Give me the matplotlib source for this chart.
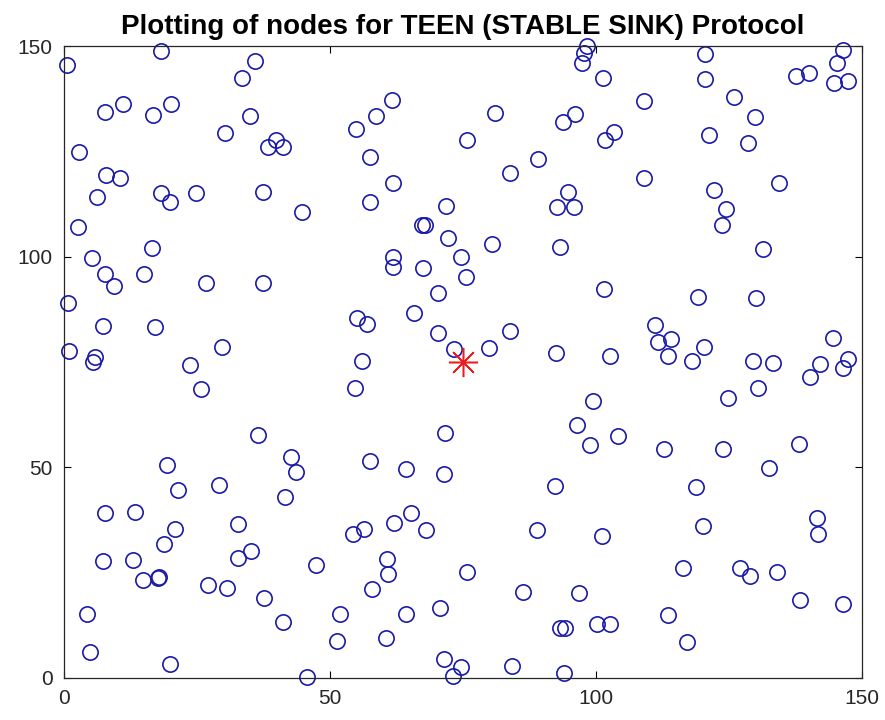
import matplotlib
matplotlib.use("Agg")
import matplotlib.pyplot as plt

# node positions (x, y) in the 150 x 150 field
node_x = [
    0.6, 18.3, 36.0, 33.6, 7.8, 11.1, 16.9, 20.2, 35.1, 30.3, 2.9, 40.0, 38.4, 41.2,
    8.0, 10.7, 6.2, 18.3, 20.0, 24.8, 37.4, 44.9,
    98.4, 97.8, 97.5, 101.3, 61.7, 58.8, 54.9, 81.1, 93.8, 96.1, 75.9, 57.5, 89.2,
    83.9, 62.0, 57.6, 71.9, 94.7, 92.8, 96.0,
    120.5, 120.5, 146.5, 145.4, 137.7, 140.1, 144.8, 147.4, 109.1, 125.9, 130.0,
    103.4, 101.7, 121.2, 128.7, 109.0, 122.3, 134.5, 124.5,
    2.7, 16.6, 5.3, 7.7, 9.4, 15.1, 26.8, 37.4, 0.9, 7.5, 17.1, 1.0, 6.0, 5.6, 29.7, 23.8,
    67.3, 67.9, 72.3, 80.6, 93.3, 62.0, 62.0, 67.6, 74.6, 75.6, 70.3, 65.9, 55.1, 57.1,
    70.4, 83.9, 73.4, 80.0, 92.5, 56.0, 101.6,
    123.8, 131.4, 119.3, 130.2, 111.1, 111.7, 114.1, 113.5, 102.7, 120.4, 118.0, 129.6,
    133.3, 144.6, 147.4, 146.5, 142.2, 140.2,
    25.8, 36.6, 42.7, 43.6, 41.6, 19.4, 21.6, 29.3, 7.8, 13.4, 20.9, 32.8,
    54.8, 71.7, 57.6, 64.3, 71.4, 99.4, 96.5, 98.9, 92.3, 65.3, 62.1, 56.5, 54.4, 68.2,
    89.0, 101.1,
    124.9, 130.5, 104.2, 112.9, 123.9, 138.2, 132.5, 118.8, 120.2, 141.5, 141.8,
    18.8, 7.5, 13.1, 14.9, 17.7, 17.9, 27.2, 30.8, 32.8, 35.2, 37.7, 41.3, 47.4, 4.4,
    5.0, 20.0, 45.8,
    60.7, 61.0, 57.9, 75.9, 52.0, 64.3, 70.7, 51.3, 60.6, 86.3, 96.8, 71.4, 74.7, 73.1,
    84.3, 93.3, 94.3, 94.1, 100.2, 102.7,
    116.4, 127.1, 129.0, 134.0, 138.4, 146.4, 113.6, 117.2,
]
node_y = [
    145.6, 148.9, 146.4, 142.5, 134.4, 136.3, 133.6, 136.3, 133.4, 129.4, 124.9, 127.8,
    126.0, 126.0, 119.3, 118.6, 114.1, 115.2, 112.9, 115.2, 115.4, 110.6,
    150.0, 148.3, 145.9, 142.5, 137.3, 133.4, 130.4, 134.2, 131.9, 133.9, 127.6, 123.7,
    123.2, 119.9, 117.4, 112.9, 112.1, 115.4, 111.7, 111.7,
    148.1, 142.2, 149.0, 145.9, 143.0, 143.5, 141.3, 141.7, 136.9, 138.0, 133.1, 129.7,
    127.8, 128.9, 126.9, 118.6, 115.8, 117.4, 111.4,
    107.1, 102.1, 99.6, 95.8, 93.0, 95.8, 93.8, 93.8, 88.9, 83.6, 83.2, 77.6, 76.2, 75.0,
    78.4, 74.2,
    107.5, 107.5, 104.5, 102.9, 102.3, 100.0, 97.6, 97.2, 100.0, 95.2, 91.3, 86.7, 85.3,
    83.9, 81.8, 82.4, 78.0, 78.2, 77.2, 75.2, 92.4,
    107.5, 101.8, 90.4, 90.2, 83.7, 79.6, 80.3, 76.4, 76.4, 78.6, 75.2, 75.2, 74.6, 80.6,
    75.6, 73.6, 74.4, 71.4,
    68.5, 57.6, 52.4, 48.9, 42.9, 50.6, 44.5, 45.7, 39.1, 39.4, 35.4, 36.5,
    68.8, 58.2, 51.4, 49.5, 48.3, 65.7, 60.0, 55.2, 45.5, 39.2, 36.8, 35.4, 34.2, 35.0,
    35.0, 33.5,
    66.3, 68.8, 57.4, 54.4, 54.4, 55.4, 49.8, 45.2, 36.1, 38.0, 34.0,
    31.7, 27.7, 27.9, 23.2, 23.7, 23.9, 22.0, 21.2, 28.5, 30.1, 19.0, 13.3, 26.7, 15.2,
    6.0, 3.2, 0.2,
    28.1, 24.7, 21.0, 25.1, 15.0, 15.1, 16.4, 8.7, 9.3, 20.4, 20.1, 4.4, 2.6, 0.4, 2.7,
    11.7, 11.8, 1.1, 12.6, 12.6,
    26.1, 25.9, 24.2, 25.1, 18.4, 17.5, 14.8, 8.4,
]
sink_x = [75]
sink_y = [75]

plt.rcParams['font.family'] = ['Liberation Sans', 'DejaVu Sans']

fig = plt.figure(figsize=(8.85, 7.2), dpi=100)
ax = fig.add_axes([0.0718, 0.059, 0.902, 0.877])

ax.plot(node_x, node_y, linestyle='none', marker='o', markersize=11,
        markerfacecolor='none', markeredgecolor='#1a1aa8', markeredgewidth=1.2,
        clip_on=False)
# sink: 8-spoke asterisk
ax.plot(sink_x, sink_y, linestyle='none', marker=(8, 2, 0), markersize=21,
        markeredgecolor='#ee1c1c', markeredgewidth=1.1, clip_on=False)

ax.set_xlim(0, 150)
ax.set_ylim(0, 150)
ax.set_xticks([0, 50, 100, 150])
ax.set_yticks([0, 50, 100, 150])
ax.tick_params(direction='in', length=5, width=0.8, top=True, right=True,
               labelsize=15, labelcolor='#262626', pad=8)
for s in ax.spines.values():
    s.set_linewidth(0.9)
    s.set_color('#262626')

ax.set_title('Plotting of nodes for TEEN (STABLE SINK) Protocol',
             fontsize=20, fontweight='bold', pad=9)

fig.savefig('out.png', dpi=100)
